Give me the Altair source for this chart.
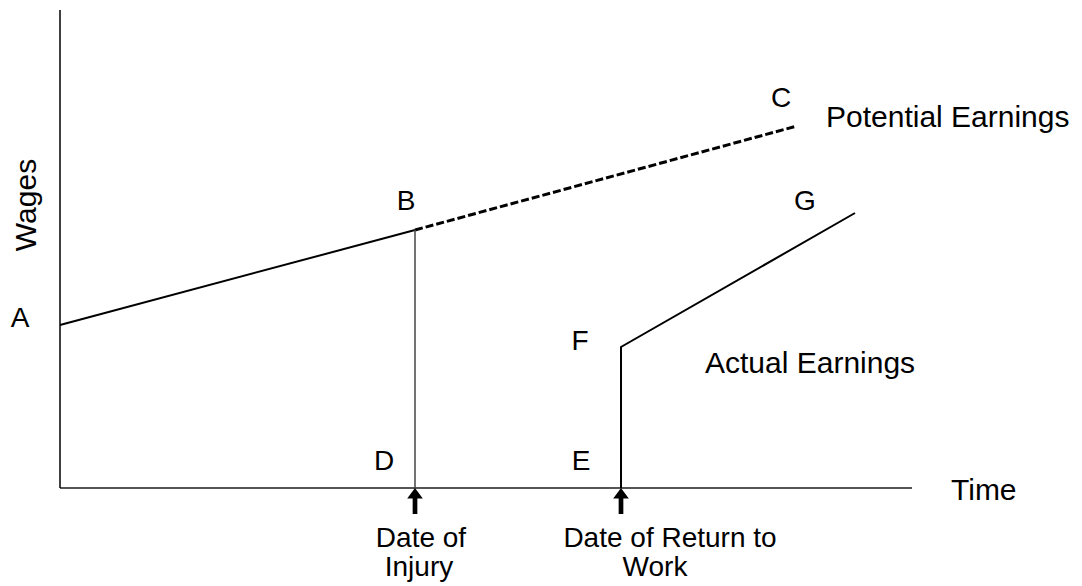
import altair as alt
import pandas as pd

# Data (schematic units)
xaxis_x = [0]
xaxis_x2 = [852]
xaxis_y = [0]
yaxis_x = [0]
yaxis_y = [0]
yaxis_y2 = [478]

solid_x = [0, 355]
solid_y = [163, 258]
dashed_x = [355, 737]
dashed_y = [258, 362]
drop_x = [355, 355]
drop_y = [0, 258]
actual_x = [561, 561, 795]
actual_y = [0, 141, 275]
actual_order = [0, 1, 2]

point_labels = ["A", "B", "C", "D", "E", "F", "G"]
point_lx = [-40, 346, 721, 324, 521, 520, 745]
point_ly = [161, 278, 381, 18, 18, 138, 278]

left_labels = ["Potential Earnings", "Actual Earnings", "Time"]
left_lx = [766, 645, 891]
left_ly = [361, 115, -12]

date_labels = ["Date of", "Injury", "Date of Return to", "Work"]
date_lx = [361, 359, 610, 595]
date_ly = [-59, -88, -59, -88]

arrow_x = [355, 561]
arrow_y = [-13, -13]

FONT = "Liberation Sans"
FS = 28
FSW = 30
FSD = 28

xs = alt.Scale(domain=[0, 852], nice=False, zero=False)
ys = alt.Scale(domain=[0, 478], nice=False, zero=False)

def X(f="x"):
    return alt.X(f"{f}:Q", scale=xs, axis=None)

def Y(f="y"):
    return alt.Y(f"{f}:Q", scale=ys, axis=None)

xaxis = alt.Chart(pd.DataFrame({"x": xaxis_x, "x2": xaxis_x2, "y": xaxis_y})).mark_rule(
    color="#555555", strokeWidth=2).encode(x=X(), x2="x2:Q", y=Y())

yaxis = alt.Chart(pd.DataFrame({"x": yaxis_x, "y": yaxis_y, "y2": yaxis_y2})).mark_rule(
    color="#000000", strokeWidth=1.5).encode(x=X(), y=Y(), y2="y2:Q")

solid = alt.Chart(pd.DataFrame({"x": solid_x, "y": solid_y})).mark_line(
    color="black", strokeWidth=2).encode(x=X(), y=Y())

dashed = alt.Chart(pd.DataFrame({"x": dashed_x, "y": dashed_y})).mark_line(
    color="black", strokeWidth=3, strokeDash=[8, 3]).encode(x=X(), y=Y())

drop = alt.Chart(pd.DataFrame({"x": drop_x, "y": drop_y})).mark_line(
    color="#444444", strokeWidth=1.5).encode(x=X(), y=Y())

actual = alt.Chart(pd.DataFrame({"x": actual_x, "y": actual_y, "o": actual_order})).mark_line(
    color="black", strokeWidth=2).encode(x=X(), y=Y(), order="o:O")

arrow_path = "M0,-1L0.6,-0.2L0.18,-0.2L0.18,1L-0.18,1L-0.18,-0.2L-0.6,-0.2Z"
arrows = alt.Chart(pd.DataFrame({"x": arrow_x, "y": arrow_y})).mark_point(
    shape=arrow_path, size=676, filled=True, color="black", opacity=1, strokeWidth=0).encode(x=X(), y=Y())

pt_text = alt.Chart(pd.DataFrame({"x": point_lx, "y": point_ly, "t": point_labels})).mark_text(
    font=FONT, fontSize=FS, align="center", baseline="alphabetic", color="black").encode(
    x=X(), y=Y(), text="t:N")

left_text = alt.Chart(pd.DataFrame({"x": left_lx, "y": left_ly, "t": left_labels})).mark_text(
    font=FONT, fontSize=FSW, align="left", baseline="alphabetic", color="black").encode(
    x=X(), y=Y(), text="t:N")

date_text = alt.Chart(pd.DataFrame({"x": date_lx, "y": date_ly, "t": date_labels})).mark_text(
    font=FONT, fontSize=FSD, align="center", baseline="alphabetic", color="black").encode(
    x=X(), y=Y(), text="t:N")

wages = alt.Chart(pd.DataFrame({"x": [-24], "y": [283], "t": ["Wages"]})).mark_text(
    font=FONT, fontSize=FSW, align="center", baseline="alphabetic", angle=270, color="black").encode(
    x=X(), y=Y(), text="t:N")

chart = alt.layer(xaxis, yaxis, solid, dashed, drop, actual, arrows, pt_text, left_text, date_text, wages).properties(
    width=852, height=478, autosize="none",
    padding={"left": 52, "top": 2, "right": 162, "bottom": 98},
    background="white",
).configure_view(stroke=None)

chart.save("out.html", embed_options={"renderer": "svg", "actions": False})
